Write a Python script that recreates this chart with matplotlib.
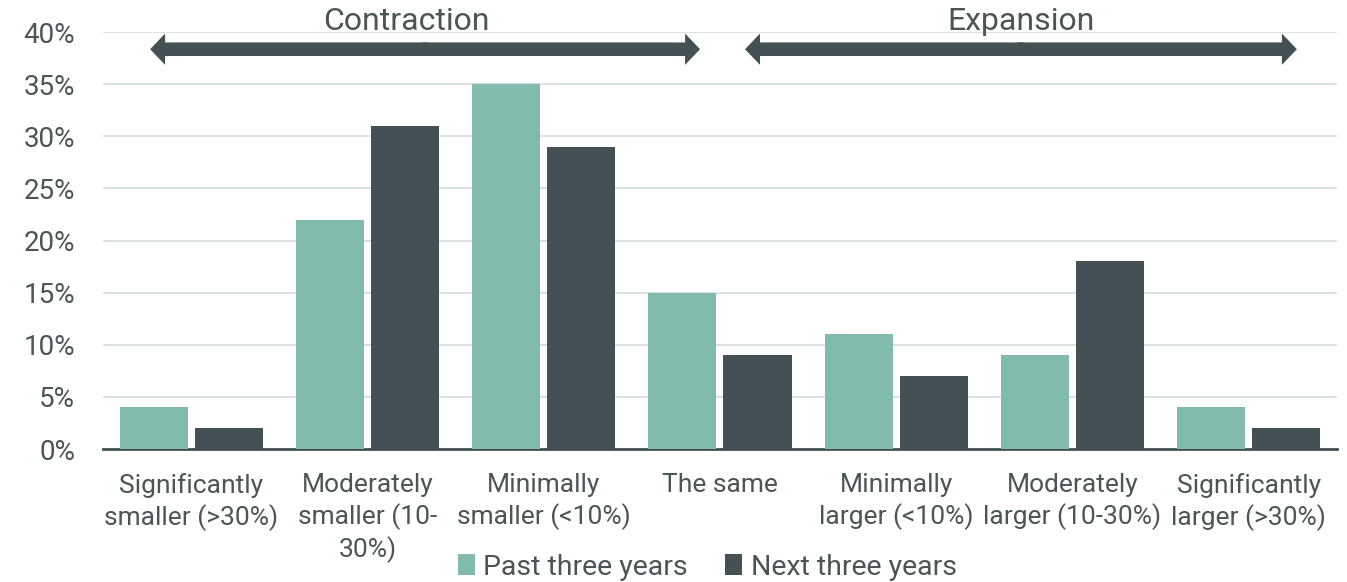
import numpy as np
import matplotlib
matplotlib.use("Agg")
import matplotlib.pyplot as plt
from matplotlib.patches import FancyArrow

categories = ["Significantly\nsmaller (>30%)", "Moderately\nsmaller (10-\n30%)",
              "Minimally\nsmaller (<10%)", "The same", "Minimally\nlarger (<10%)",
              "Moderately\nlarger (10-30%)", "Significantly\nlarger (>30%)"]
past = [4, 22, 35, 15, 11, 9, 4]
nxt = [2, 31, 29, 9, 7, 18, 2]
series_names = ["Past three years", "Next three years"]
yticks = [0, 5, 10, 15, 20, 25, 30, 35, 40]

green = "#82BAAD"
dark = "#435155"
text_c = "#4A5558"

plt.rcParams["font.family"] = ["Roboto", "DejaVu Sans"]

fig = plt.figure(figsize=(13.47, 5.82), dpi=100)
ax = fig.add_axes([0.0765, 0.2285, 0.916, 0.7165])

x = np.arange(len(categories))
w = 0.386
off = 0.213
ax.bar(x - off, past, w, color=green, label=series_names[0], zorder=3)
ax.bar(x + off, nxt, w, color=dark, label=series_names[1], zorder=3)

ax.set_xlim(-0.5, len(categories) - 0.5)
ax.set_ylim(0, 40)
ax.set_yticks(yticks)
ax.set_yticklabels([f"{v}%" for v in yticks])
ax.grid(axis="y", color="#D9DEDE", lw=1.3, zorder=0)
ax.set_xticks(x)
ax.set_xticklabels(categories, va="top", linespacing=1.3)
ax.tick_params(axis="both", length=0, labelcolor=text_c)
ax.tick_params(axis="y", pad=20, labelsize=20)
ax.tick_params(axis="x", pad=17, labelsize=19)
for s in ["top", "right", "left"]:
    ax.spines[s].set_visible(False)
ax.spines["bottom"].set_color(dark)
ax.spines["bottom"].set_linewidth(2)

# range arrows
y_arr = 38.35
arrows = [((-0.233, 2.887), "Contraction", 1.22), ((3.142, 6.273), "Expansion", 4.71)]
for (x0, x1), lab, lx in arrows:
    mid = (x0 + x1) / 2
    for end in (x0, x1):
        start = mid - 0.02 * np.sign(end - mid)
        ax.add_patch(FancyArrow(start, y_arr, end - start, 0, width=1.3, head_width=3.0,
                                head_length=0.085, length_includes_head=True,
                                color=dark, lw=0, clip_on=False, zorder=4))
    ax.text(lx, 40.2, lab, ha="center", va="baseline", fontsize=23, color=text_c)

fig.legend(loc="lower center", bbox_to_anchor=(0.525, -0.042), ncol=2, frameon=False,
           fontsize=20.5, handlelength=0.6, handleheight=0.75, handletextpad=0.3,
           columnspacing=1.3, labelcolor=text_c)

fig.savefig("out.png", dpi=100)
